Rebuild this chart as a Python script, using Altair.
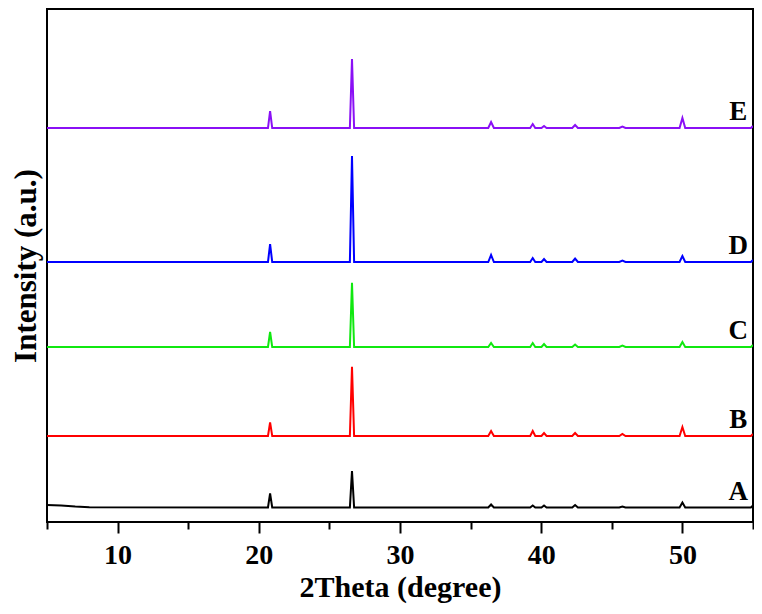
import altair as alt
import pandas as pd

# Sample names, colours and vertical offsets (baseline, in px-like intensity units)
samples = ["A", "B", "C", "D", "E"]
colors = ["#000000", "#ff0000", "#10e810", "#0000ff", "#8a10f5"]
baselines = [17.5, 89, 178, 263, 397]

# Reflection positions (2Theta, degree)
peak_pos = [20.8, 26.6, 36.45, 39.4, 40.2, 42.4, 45.75, 50.0]
peak_halfwidth = [0.15, 0.15, 0.2, 0.18, 0.18, 0.2, 0.22, 0.2]

# Peak heights above the baseline for each sample
heights = {
    "A": [14.2, 36.5, 3.0, 2.0, 2.0, 2.5, 1.0, 5.0],
    "B": [13.7, 69.3, 5.0, 5.0, 3.0, 3.0, 2.0, 9.0],
    "C": [15.0, 64.3, 4.0, 4.0, 3.0, 2.5, 1.5, 5.0],
    "D": [18.0, 106.0, 7.0, 4.0, 3.0, 3.5, 1.5, 6.0],
    "E": [17.0, 69.0, 6.0, 4.0, 2.0, 3.0, 1.5, 10.0],
}
# Low-angle background of sample A (2Theta, rise above baseline)
a_background_x = [5.0, 6.0, 7.0, 8.0]
a_background_y = [2.5, 2.0, 0.9, 0.3]

rows = []
for s, base in zip(samples, baselines):
    if s == "A":
        for bx, by in zip(a_background_x, a_background_y):
            rows.append((s, bx, base + by))
    else:
        rows.append((s, 5.0, base))
    for p, w, h in zip(peak_pos, peak_halfwidth, heights[s]):
        rows.append((s, p - w, base))
        rows.append((s, p, base + h))
        rows.append((s, p + w, base))
    rows.append((s, 54.85, base))
    rows.append((s, 55.0, base + 2))
df = pd.DataFrame(rows, columns=["sample", "theta", "intensity"])

lab = pd.DataFrame({"sample": samples,
                    "theta": [53.95] * 5,
                    "intensity": [b + 16 for b in baselines]})

FONT = "Liberation Serif"

xscale = alt.Scale(domain=[5, 55], nice=False, zero=False)
yscale = alt.Scale(domain=[3, 516], nice=False, zero=False)
cscale = alt.Scale(domain=samples, range=colors)

lines = alt.Chart(df).mark_line(strokeWidth=2, clip=True).encode(
    x=alt.X("theta:Q", scale=xscale, title="2Theta (degree)",
            axis=alt.Axis(values=[5, 10, 15, 20, 25, 30, 35, 40, 45, 50, 55],
                          labelExpr="datum.value % 10 === 0 ? datum.label : ''",
                          tickSize={"condition": {"test": "datum.value % 10 === 0", "value": 11}, "value": 7},
                          labelOverlap=False, grid=False, domain=False,
                          tickColor="black", tickWidth=2,
                          labelFont=FONT, labelFontSize=28, labelFontWeight="bold",
                          labelColor="black", labelPadding=8,
                          titleFont=FONT, titleFontSize=30, titleFontWeight="bold",
                          titleColor="black", titlePadding=3)),
    y=alt.Y("intensity:Q", scale=yscale, title="Intensity (a.u.)",
            axis=alt.Axis(labels=False, ticks=False, domain=False, grid=False,
                          titleFont=FONT, titleFontSize=31, titleFontWeight="bold",
                          titleColor="black", titlePadding=5)),
    color=alt.Color("sample:N", scale=cscale, legend=None),
    detail="sample:N",
    order="theta:Q",
)

texts = alt.Chart(lab).mark_text(font=FONT, fontSize=27, fontWeight="bold",
                                 color="black", align="center", baseline="middle").encode(
    x=alt.X("theta:Q", scale=xscale),
    y=alt.Y("intensity:Q", scale=yscale),
    text="sample:N",
)

chart = alt.layer(lines, texts).properties(
    width=706, height=513,
    autosize=alt.AutoSizeParams(type="none"),
    padding={"left": 39, "top": 1, "right": 1, "bottom": 84},
).configure(background="white").configure_view(stroke="black", strokeWidth=2)

chart.save("out.html", embed_options={"renderer": "svg", "actions": False})
